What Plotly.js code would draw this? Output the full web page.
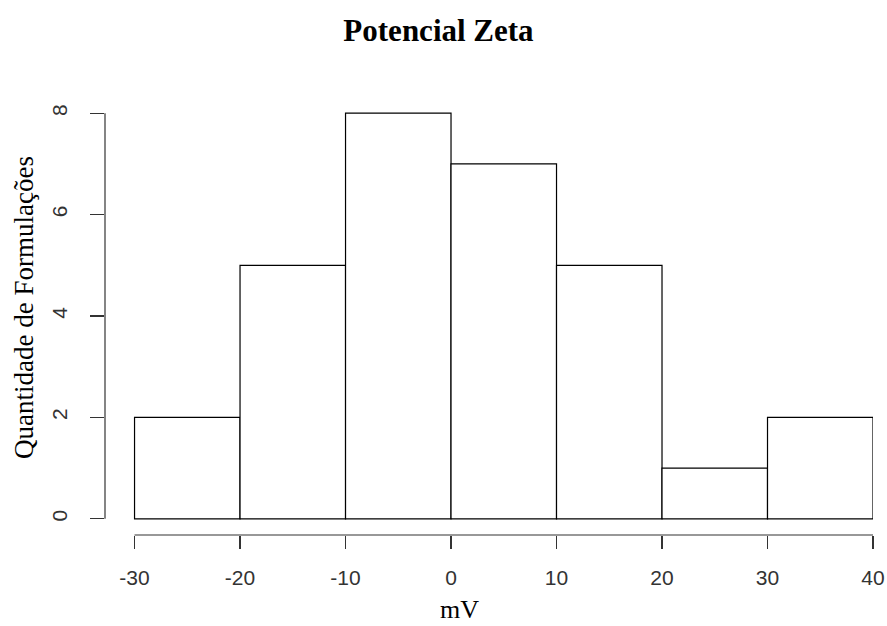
<!DOCTYPE html>
<html><head><meta charset="utf-8">
<script src="https://cdn.plot.ly/plotly-3.0.1.min.js"></script>
<style>body{margin:0;background:#fff}#c{width:887px;height:626px}</style>
</head><body><div id="c"></div>
<script>
const binEdges = [-30, -20, -10, 0, 10, 20, 30, 40];
const counts = [2, 5, 8, 7, 5, 1, 2];
const xTicks = [-30, -20, -10, 0, 10, 20, 30, 40];
const yTicks = [0, 2, 4, 6, 8];

const mids = counts.map((c, i) => (binEdges[i] + binEdges[i + 1]) / 2);
const widths = counts.map((c, i) => binEdges[i + 1] - binEdges[i]);

const trace = {
  type: 'bar', x: mids, y: counts, width: widths,
  marker: {color: '#ffffff', line: {color: '#000000', width: 1.2}},
  hoverinfo: 'x+y'
};
const tickFont = {family: 'Liberation Sans, Arial, sans-serif', size: 21, color: '#333'};
const serif = 'Liberation Serif, Times New Roman, serif';
const layout = {
  width: 887, height: 626,
  margin: {l: 105, r: 14, t: 97, b: 91},
  paper_bgcolor: '#fff', plot_bgcolor: '#fff',
  showlegend: false,
  title: {text: '<b>Potencial Zeta</b>', x: 438.5 / 887, xref: 'container', xanchor: 'center',
          y: 1 - 30 / 626, yref: 'container', yanchor: 'middle',
          font: {family: serif, size: 31, color: '#000'}},
  xaxis: {range: [-32.8, 40], tickvals: xTicks, ticktext: xTicks.map(String),
          ticks: 'outside', ticklen: 13, tickwidth: 1.2, tickcolor: '#333',
          showline: false, showgrid: false, zeroline: false, fixedrange: true,
          tickfont: tickFont, ticklabelstandoff: 11},
  yaxis: {range: [-0.32, 8.32], tickvals: yTicks, ticktext: yTicks.map(String),
          ticks: 'outside', ticklen: 14, tickwidth: 1.2, tickcolor: '#333', tickangle: -90,
          showline: false, showgrid: false, zeroline: false, fixedrange: true,
          tickfont: tickFont, ticklabelstandoff: 15},
  shapes: [
    {type: 'line', xref: 'x', yref: 'paper', x0: xTicks[0], x1: xTicks[xTicks.length - 1], y0: 0, y1: 0,
     line: {color: '#333', width: 1.2}},
    {type: 'line', xref: 'paper', yref: 'y', x0: 0, x1: 0, y0: yTicks[0], y1: yTicks[yTicks.length - 1],
     line: {color: '#333', width: 1.2}}
  ],
  annotations: [
    {text: 'mV', xref: 'paper', yref: 'paper', x: (459 - 105) / 768, y: -(609 - 535) / 438,
     xanchor: 'center', yanchor: 'middle', showarrow: false,
     font: {family: serif, size: 26, color: '#000'}},
    {text: 'Quantidade de Formulações', xref: 'paper', yref: 'paper', x: -(105 - 24) / 768,
     y: (535 - 308) / 438, textangle: -90, xanchor: 'center', yanchor: 'middle', showarrow: false,
     font: {family: serif, size: 27, color: '#000'}}
  ]
};
Plotly.newPlot('c', [trace], layout, {displayModeBar: false, staticPlot: true});
</script></body></html>
